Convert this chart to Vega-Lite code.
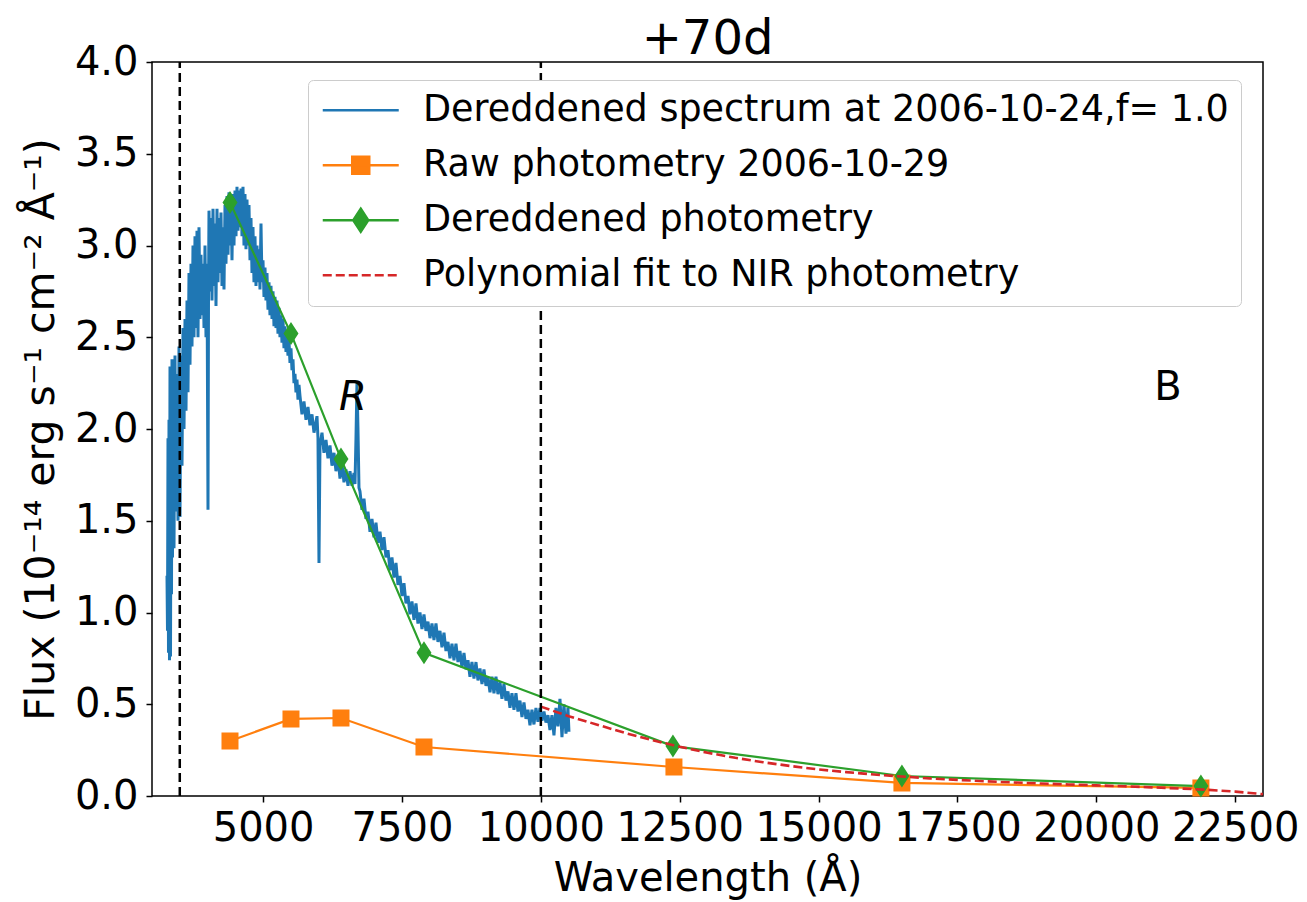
{
"$schema": "https://vega.github.io/schema/vega-lite/v6.json",
"width": 1111, "height": 734,
"autosize": {"type": "none"},
"padding": {"left": 152, "top": 62, "right": 44, "bottom": 106},
"background": "white",
"title": {"text": "+70d", "fontSize": 48, "font": "DejaVu Sans", "fontWeight": "normal", "frame": "group", "offset": 8, "dy": 30, "anchor": "middle", "color": "black"},
"config": {
  "font": "DejaVu Sans",
  "view": {"stroke": "black", "strokeWidth": 1.5},
  "axis": {"grid": false, "domain": false, "tickColor": "black", "tickWidth": 1.5, "tickSize": 6, "labelFont": "DejaVu Sans", "labelFontSize": 40, "labelColor": "black", "titleFont": "DejaVu Sans", "titleFontSize": 40, "titleFontWeight": "normal", "titleColor": "black", "labelPadding": 6, "labelOverlap": false, "labelFlush": false}
},
"datasets": {
"spec": [
{"s":"spec","w":3270,"f":1.2},{"s":"spec","w":3279,"f":0.9},{"s":"spec","w":3288,"f":1.95},{"s":"spec","w":3297,"f":0.78},{"s":"spec","w":3306,"f":2.05},{"s":"spec","w":3315,"f":0.74},{"s":"spec","w":3324,"f":2.34},{"s":"spec","w":3333,"f":0.76},{"s":"spec","w":3342,"f":1.9},{"s":"spec","w":3351,"f":1.1},{"s":"spec","w":3360,"f":2.38},{"s":"spec","w":3369,"f":1.3},{"s":"spec","w":3378,"f":2.2},{"s":"spec","w":3396,"f":1.35},{"s":"spec","w":3414,"f":2.4},{"s":"spec","w":3432,"f":1.55},{"s":"spec","w":3450,"f":2.3},{"s":"spec","w":3468,"f":1.5},{"s":"spec","w":3486,"f":2.45},{"s":"spec","w":3504,"f":1.52},{"s":"spec","w":3522,"f":2.4},{"s":"spec","w":3540,"f":1.8},{"s":"spec","w":3558,"f":2.55},{"s":"spec","w":3576,"f":2.0},{"s":"spec","w":3594,"f":2.6},{"s":"spec","w":3612,"f":2.1},{"s":"spec","w":3630,"f":2.7},{"s":"spec","w":3648,"f":2.2},{"s":"spec","w":3666,"f":2.85},{"s":"spec","w":3684,"f":2.35},{"s":"spec","w":3702,"f":2.9},{"s":"spec","w":3720,"f":2.45},{"s":"spec","w":3738,"f":3.0},{"s":"spec","w":3756,"f":2.5},{"s":"spec","w":3774,"f":3.05},{"s":"spec","w":3792,"f":2.55},{"s":"spec","w":3810,"f":3.08},{"s":"spec","w":3828,"f":2.5},{"s":"spec","w":3846,"f":3.1},{"s":"spec","w":3864,"f":2.6},{"s":"spec","w":3882,"f":2.95},{"s":"spec","w":3900,"f":2.62},{"s":"spec","w":3918,"f":2.9},{"s":"spec","w":3936,"f":2.55},{"s":"spec","w":3954,"f":3.0},{"s":"spec","w":3972,"f":2.5},{"s":"spec","w":3990,"f":2.9},{"s":"spec","w":4008,"f":1.56},{"s":"spec","w":4017,"f":2.7},{"s":"spec","w":4026,"f":3.19},{"s":"spec","w":4044,"f":2.75},{"s":"spec","w":4062,"f":3.15},{"s":"spec","w":4080,"f":2.7},{"s":"spec","w":4098,"f":3.2},{"s":"spec","w":4116,"f":2.78},{"s":"spec","w":4134,"f":3.12},{"s":"spec","w":4152,"f":2.67},{"s":"spec","w":4170,"f":3.2},{"s":"spec","w":4188,"f":2.8},{"s":"spec","w":4206,"f":3.15},{"s":"spec","w":4224,"f":2.85},{"s":"spec","w":4242,"f":3.18},{"s":"spec","w":4260,"f":2.78},{"s":"spec","w":4278,"f":3.1},{"s":"spec","w":4296,"f":2.76},{"s":"spec","w":4314,"f":3.22},{"s":"spec","w":4332,"f":2.9},{"s":"spec","w":4350,"f":3.27},{"s":"spec","w":4368,"f":2.95},{"s":"spec","w":4386,"f":3.29},{"s":"spec","w":4404,"f":3.0},{"s":"spec","w":4422,"f":3.25},{"s":"spec","w":4440,"f":2.92},{"s":"spec","w":4458,"f":3.28},{"s":"spec","w":4476,"f":3.0},{"s":"spec","w":4494,"f":3.3},{"s":"spec","w":4512,"f":3.05},{"s":"spec","w":4530,"f":3.32},{"s":"spec","w":4548,"f":3.08},{"s":"spec","w":4566,"f":3.3},{"s":"spec","w":4584,"f":3.1},{"s":"spec","w":4602,"f":3.31},{"s":"spec","w":4620,"f":3.05},{"s":"spec","w":4638,"f":3.32},{"s":"spec","w":4656,"f":3.0},{"s":"spec","w":4674,"f":3.28},{"s":"spec","w":4692,"f":2.98},{"s":"spec","w":4710,"f":3.25},{"s":"spec","w":4728,"f":3.0},{"s":"spec","w":4746,"f":3.22},{"s":"spec","w":4764,"f":2.92},{"s":"spec","w":4782,"f":3.15},{"s":"spec","w":4800,"f":2.85},{"s":"spec","w":4818,"f":3.1},{"s":"spec","w":4836,"f":2.8},{"s":"spec","w":4854,"f":3.05},{"s":"spec","w":4872,"f":2.78},{"s":"spec","w":4890,"f":3.0},{"s":"spec","w":4908,"f":2.8},{"s":"spec","w":4926,"f":2.98},{"s":"spec","w":4944,"f":2.76},{"s":"spec","w":4962,"f":3.12},{"s":"spec","w":4980,"f":2.8},{"s":"spec","w":4998,"f":2.92},{"s":"spec","w":5016,"f":2.72},{"s":"spec","w":5034,"f":2.88},{"s":"spec","w":5052,"f":2.7},{"s":"spec","w":5070,"f":2.85},{"s":"spec","w":5088,"f":2.65},{"s":"spec","w":5106,"f":2.8},{"s":"spec","w":5124,"f":2.62},{"s":"spec","w":5142,"f":2.78},{"s":"spec","w":5160,"f":2.6},{"s":"spec","w":5178,"f":2.75},{"s":"spec","w":5196,"f":2.56},{"s":"spec","w":5214,"f":2.72},{"s":"spec","w":5232,"f":2.55},{"s":"spec","w":5250,"f":2.7},{"s":"spec","w":5268,"f":2.52},{"s":"spec","w":5286,"f":2.66},{"s":"spec","w":5304,"f":2.5},{"s":"spec","w":5322,"f":2.62},{"s":"spec","w":5340,"f":2.47},{"s":"spec","w":5358,"f":2.6},{"s":"spec","w":5376,"f":2.44},{"s":"spec","w":5394,"f":2.56},{"s":"spec","w":5412,"f":2.42},{"s":"spec","w":5430,"f":2.52},{"s":"spec","w":5448,"f":2.4},{"s":"spec","w":5466,"f":2.48},{"s":"spec","w":5484,"f":2.36},{"s":"spec","w":5502,"f":2.44},{"s":"spec","w":5520,"f":2.32},{"s":"spec","w":5538,"f":2.38},{"s":"spec","w":5556,"f":2.25},{"s":"spec","w":5574,"f":2.3},{"s":"spec","w":5592,"f":2.2},{"s":"spec","w":5610,"f":2.27},{"s":"spec","w":5628,"f":2.16},{"s":"spec","w":5646,"f":2.24},
{"s":"spec","w":5664,"f":2.18},{"s":"spec","w":5700,"f":2.08},{"s":"spec","w":5736,"f":2.15},{"s":"spec","w":5772,"f":2.05},{"s":"spec","w":5808,"f":2.12},{"s":"spec","w":5844,"f":2.02},{"s":"spec","w":5880,"f":2.08},{"s":"spec","w":5916,"f":1.98},{"s":"spec","w":5952,"f":2.04},{"s":"spec","w":5970,"f":2.07},{"s":"spec","w":5988,"f":1.95},{"s":"spec","w":6006,"f":1.27},{"s":"spec","w":6024,"f":1.91},{"s":"spec","w":6060,"f":1.98},{"s":"spec","w":6096,"f":1.87},{"s":"spec","w":6132,"f":1.94},{"s":"spec","w":6168,"f":1.84},{"s":"spec","w":6204,"f":1.91},{"s":"spec","w":6240,"f":1.8},{"s":"spec","w":6276,"f":1.87},{"s":"spec","w":6312,"f":1.77},{"s":"spec","w":6348,"f":1.85},{"s":"spec","w":6384,"f":1.73},{"s":"spec","w":6420,"f":1.81},{"s":"spec","w":6456,"f":1.71},{"s":"spec","w":6492,"f":1.78},{"s":"spec","w":6528,"f":1.69},{"s":"spec","w":6564,"f":1.77},{"s":"spec","w":6600,"f":1.69},{"s":"spec","w":6636,"f":1.76},{"s":"spec","w":6654,"f":1.7},{"s":"spec","w":6672,"f":1.95},{"s":"spec","w":6690,"f":2.25},{"s":"spec","w":6708,"f":2.0},{"s":"spec","w":6726,"f":1.68},
{"s":"spec","w":6744,"f":1.66},{"s":"spec","w":6780,"f":1.56},{"s":"spec","w":6816,"f":1.62},{"s":"spec","w":6852,"f":1.51},{"s":"spec","w":6888,"f":1.55},{"s":"spec","w":6924,"f":1.44},{"s":"spec","w":6960,"f":1.51},{"s":"spec","w":6996,"f":1.41},{"s":"spec","w":7032,"f":1.49},{"s":"spec","w":7068,"f":1.38},{"s":"spec","w":7104,"f":1.44},{"s":"spec","w":7140,"f":1.34},{"s":"spec","w":7176,"f":1.41},{"s":"spec","w":7212,"f":1.3},{"s":"spec","w":7248,"f":1.34},{"s":"spec","w":7284,"f":1.23},{"s":"spec","w":7320,"f":1.3},{"s":"spec","w":7356,"f":1.19},{"s":"spec","w":7392,"f":1.27},{"s":"spec","w":7428,"f":1.15},{"s":"spec","w":7464,"f":1.2},{"s":"spec","w":7500,"f":1.09},{"s":"spec","w":7536,"f":1.16},{"s":"spec","w":7572,"f":1.05},{"s":"spec","w":7608,"f":1.09},{"s":"spec","w":7644,"f":0.99},{"s":"spec","w":7680,"f":1.06},{"s":"spec","w":7716,"f":0.96},{"s":"spec","w":7752,"f":1.05},{"s":"spec","w":7788,"f":0.94},{"s":"spec","w":7824,"f":1.0},{"s":"spec","w":7860,"f":0.91},{"s":"spec","w":7896,"f":0.99},{"s":"spec","w":7932,"f":0.9},{"s":"spec","w":7968,"f":0.95},{"s":"spec","w":8004,"f":0.86},{"s":"spec","w":8040,"f":0.94},{"s":"spec","w":8076,"f":0.85},{"s":"spec","w":8112,"f":0.94},{"s":"spec","w":8148,"f":0.84},{"s":"spec","w":8184,"f":0.9},{"s":"spec","w":8220,"f":0.81},{"s":"spec","w":8256,"f":0.89},{"s":"spec","w":8292,"f":0.79},{"s":"spec","w":8328,"f":0.84},{"s":"spec","w":8364,"f":0.75},{"s":"spec","w":8400,"f":0.83},{"s":"spec","w":8436,"f":0.74},{"s":"spec","w":8472,"f":0.83},{"s":"spec","w":8508,"f":0.73},{"s":"spec","w":8544,"f":0.79},{"s":"spec","w":8580,"f":0.7},{"s":"spec","w":8616,"f":0.78},{"s":"spec","w":8652,"f":0.69},{"s":"spec","w":8688,"f":0.74},{"s":"spec","w":8724,"f":0.65},{"s":"spec","w":8760,"f":0.73},{"s":"spec","w":8796,"f":0.64},{"s":"spec","w":8832,"f":0.73},{"s":"spec","w":8868,"f":0.63},{"s":"spec","w":8904,"f":0.695},{"s":"spec","w":8940,"f":0.61},{"s":"spec","w":8976,"f":0.69},{"s":"spec","w":9012,"f":0.6},{"s":"spec","w":9048,"f":0.65},{"s":"spec","w":9084,"f":0.565},{"s":"spec","w":9120,"f":0.65},{"s":"spec","w":9156,"f":0.56},{"s":"spec","w":9192,"f":0.65},{"s":"spec","w":9228,"f":0.555},{"s":"spec","w":9264,"f":0.62},{"s":"spec","w":9300,"f":0.53},{"s":"spec","w":9336,"f":0.61},{"s":"spec","w":9372,"f":0.52},{"s":"spec","w":9408,"f":0.57},{"s":"spec","w":9444,"f":0.48},{"s":"spec","w":9480,"f":0.56},{"s":"spec","w":9516,"f":0.47},{"s":"spec","w":9552,"f":0.56},{"s":"spec","w":9588,"f":0.46},{"s":"spec","w":9624,"f":0.52},{"s":"spec","w":9660,"f":0.43},{"s":"spec","w":9696,"f":0.51},{"s":"spec","w":9732,"f":0.42},{"s":"spec","w":9768,"f":0.47},{"s":"spec","w":9804,"f":0.385},{"s":"spec","w":9840,"f":0.47},{"s":"spec","w":9876,"f":0.39},{"s":"spec","w":9912,"f":0.48},{"s":"spec","w":9948,"f":0.405},{"s":"spec","w":9984,"f":0.48},
{"s":"spec","w":10020,"f":0.41},{"s":"spec","w":10056,"f":0.46},{"s":"spec","w":10092,"f":0.4},{"s":"spec","w":10128,"f":0.44},{"s":"spec","w":10164,"f":0.36},{"s":"spec","w":10200,"f":0.44},{"s":"spec","w":10236,"f":0.33},{"s":"spec","w":10272,"f":0.48},{"s":"spec","w":10308,"f":0.38},{"s":"spec","w":10344,"f":0.53},{"s":"spec","w":10380,"f":0.32},{"s":"spec","w":10416,"f":0.5},{"s":"spec","w":10452,"f":0.34},{"s":"spec","w":10488,"f":0.48},{"s":"spec","w":10506,"f":0.35}
],
"phot": [
{"s":"raw","w":4404,"f":0.3},{"s":"raw","w":5502,"f":0.42},{"s":"raw","w":6402,"f":0.425},{"s":"raw","w":7896,"f":0.267},{"s":"raw","w":12396,"f":0.158},{"s":"raw","w":16500,"f":0.071},{"s":"raw","w":21882,"f":0.044},
{"s":"dered","w":4404,"f":3.235},{"s":"dered","w":5502,"f":2.52},{"s":"dered","w":6402,"f":1.837},{"s":"dered","w":7896,"f":0.78},{"s":"dered","w":12378,"f":0.272},{"s":"dered","w":16500,"f":0.109},{"s":"dered","w":21882,"f":0.054}
],
"poly": [
{"s":"poly","w":10000,"f":0.487},{"s":"poly","w":10500,"f":0.435},{"s":"poly","w":11000,"f":0.39},{"s":"poly","w":11500,"f":0.345},{"s":"poly","w":12000,"f":0.305},{"s":"poly","w":12500,"f":0.268},{"s":"poly","w":13000,"f":0.236},{"s":"poly","w":13500,"f":0.208},{"s":"poly","w":14000,"f":0.184},{"s":"poly","w":14500,"f":0.163},{"s":"poly","w":15000,"f":0.145},{"s":"poly","w":15500,"f":0.13},{"s":"poly","w":16000,"f":0.117},{"s":"poly","w":16500,"f":0.106},{"s":"poly","w":17000,"f":0.096},{"s":"poly","w":17500,"f":0.088},{"s":"poly","w":18000,"f":0.08},{"s":"poly","w":18500,"f":0.074},{"s":"poly","w":19000,"f":0.068},{"s":"poly","w":19500,"f":0.063},{"s":"poly","w":20000,"f":0.058},{"s":"poly","w":20500,"f":0.053},{"s":"poly","w":21000,"f":0.047},{"s":"poly","w":21500,"f":0.041},{"s":"poly","w":22000,"f":0.034},{"s":"poly","w":22500,"f":0.024},{"s":"poly","w":23000,"f":0.01}
],
"vlines": [{"w":3500,"f":0,"f2":4},{"w":10000,"f":0,"f2":4}],
"labR": [{"w":6618,"f":2.104,"t":"R"}],
"labB": [{"w":21288,"f":2.158,"t":"B"}]
},
"encoding": {
  "x": {"field": "w", "type": "quantitative", "scale": {"domain": [3000, 23000], "nice": false, "zero": false}, "axis": {"values": [5000, 7500, 10000, 12500, 15000, 17500, 20000, 22500], "format": "d", "title": "Wavelength (Å)", "titlePadding": 10}},
  "y": {"field": "f", "type": "quantitative", "scale": {"domain": [0, 4], "nice": false, "zero": false}, "axis": {"values": [0, 0.5, 1, 1.5, 2, 2.5, 3, 3.5, 4], "format": ".1f", "title": "Flux (10⁻¹⁴ erg s⁻¹ cm⁻² Å⁻¹)", "titleFontSize": 41, "labelPadding": 8, "titlePadding": 12}}
},
"layer": [
  {"data": {"name": "spec"}, "mark": {"type": "line", "strokeWidth": 3, "clip": true},
   "encoding": {"color": {"field": "s", "type": "nominal",
     "scale": {"domain": ["spec", "raw", "dered", "poly"], "range": ["#1f77b4", "#ff7f0e", "#2ca02c", "#d62728"]},
     "legend": {"orient": "none", "legendX": 156, "legendY": 18, "title": null, "padding": 12, "rowPadding": 18, "fillColor": "white", "strokeColor": "#cccccc", "cornerRadius": 5,
       "labelFont": "DejaVu Sans", "labelFontSize": 36.5, "labelColor": "black", "labelLimit": 2000, "symbolSize": 400, "symbolStrokeWidth": 2.5, "symbolOffset": 22.5, "labelOffset": 44,
       "labelExpr": "datum.value == 'spec' ? 'Dereddened spectrum at 2006-10-24,f= 1.0' : datum.value == 'raw' ? 'Raw photometry 2006-10-29' : datum.value == 'dered' ? 'Dereddened photometry' : 'Polynomial fit to NIR photometry'",
       "encode": {"symbols": {"update": {"strokeWidth": {"value": 2.5}, "opacity": {"value": 1}, "stroke": {"scale": "color", "field": "value"}, "fill": {"scale": "color", "field": "value"}, "strokeDash": {"value": []}}}}}}}},
  {"data": {"name": "phot"}, "mark": {"type": "line", "strokeWidth": 2.2},
   "encoding": {"color": {"field": "s", "type": "nominal"}}},
  {"data": {"name": "phot"}, "mark": {"type": "point", "filled": true, "size": 400, "strokeWidth": 0, "opacity": 1},
   "encoding": {"color": {"field": "s", "type": "nominal"},
     "shape": {"field": "s", "type": "nominal",
       "scale": {"domain": ["spec", "raw", "dered", "poly"], "range": ["M-3.8,0L3.8,0", "M-3.8,0L3.8,0M-0.85,-0.85L0.85,-0.85L0.85,0.85L-0.85,0.85Z", "M-3.8,0L3.8,0M0,-1.15L0.75,0L0,1.15L-0.75,0Z", "M-3.8,0L-2.9,0M-2.5,0L-1.6,0M-1.2,0L-0.3,0M0.1,0L1.0,0M1.4,0L2.3,0M2.7,0L3.6,0"]}}}},
  {"data": {"name": "poly"}, "mark": {"type": "line", "strokeWidth": 2.6, "strokeDash": [9, 4], "clip": true},
   "encoding": {"color": {"field": "s", "type": "nominal"}}},
  {"data": {"name": "vlines"}, "mark": {"type": "rule", "stroke": "black", "strokeWidth": 2.5, "strokeDash": [9, 5]},
   "encoding": {"y2": {"field": "f2"}}},
  {"data": {"name": "labR"}, "mark": {"type": "text", "fontSize": 40, "fontStyle": "italic", "font": "DejaVu Sans", "align": "center", "baseline": "alphabetic", "color": "black"},
   "encoding": {"text": {"field": "t"}}},
  {"data": {"name": "labB"}, "mark": {"type": "text", "fontSize": 40, "font": "DejaVu Sans", "align": "center", "baseline": "alphabetic", "color": "black"},
   "encoding": {"text": {"field": "t"}}}
]
}
